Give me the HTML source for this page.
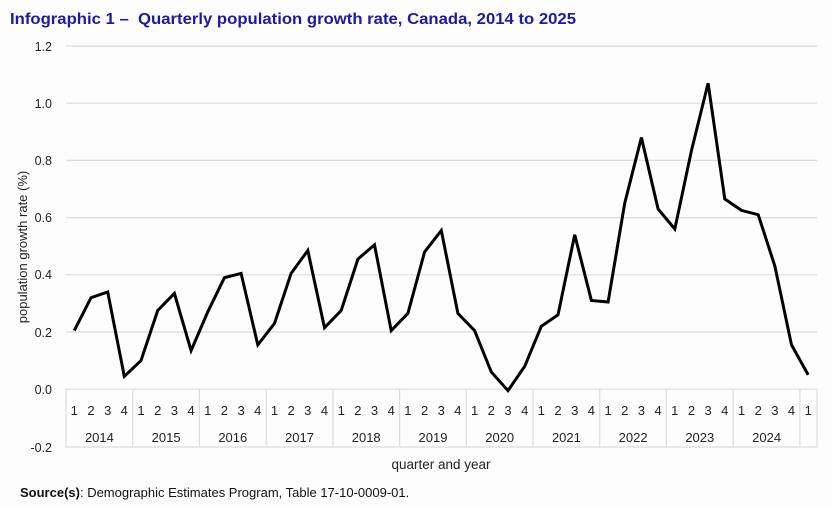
<!DOCTYPE html>
<html><head><meta charset="utf-8"><style>
html,body{margin:0;padding:0;background:#fdfdfd;}
svg{display:block;font-family:"Liberation Sans",Arial,sans-serif;}
</style></head><body>
<svg width="831" height="509" viewBox="0 0 831 509" xmlns="http://www.w3.org/2000/svg">
<rect width="831" height="509" fill="#fdfdfd"/>
<text x="10" y="24" font-size="16" font-weight="bold" fill="#1a1aa6" textLength="566" lengthAdjust="spacingAndGlyphs">Infographic 1 –&#160; Quarterly population growth rate, Canada, 2014 to 2025</text>
<g stroke="#dcdcdc" stroke-width="1.2">
<line x1="66" y1="46" x2="817" y2="46"/>
<line x1="66" y1="103.2" x2="817" y2="103.2"/>
<line x1="66" y1="160.4" x2="817" y2="160.4"/>
<line x1="66" y1="217.6" x2="817" y2="217.6"/>
<line x1="66" y1="274.8" x2="817" y2="274.8"/>
<line x1="66" y1="332" x2="817" y2="332"/>
<line x1="66" y1="389.2" x2="817" y2="389.2"/>
<line x1="66" y1="447" x2="817" y2="447"/>
<line x1="66" y1="389" x2="66" y2="447"/>
<line x1="132.7" y1="389" x2="132.7" y2="447"/>
<line x1="199.4" y1="389" x2="199.4" y2="447"/>
<line x1="266.2" y1="389" x2="266.2" y2="447"/>
<line x1="332.9" y1="389" x2="332.9" y2="447"/>
<line x1="399.6" y1="389" x2="399.6" y2="447"/>
<line x1="466.3" y1="389" x2="466.3" y2="447"/>
<line x1="533" y1="389" x2="533" y2="447"/>
<line x1="599.8" y1="389" x2="599.8" y2="447"/>
<line x1="666.5" y1="389" x2="666.5" y2="447"/>
<line x1="733.2" y1="389" x2="733.2" y2="447"/>
<line x1="799.9" y1="389" x2="799.9" y2="447"/>
<line x1="817" y1="389" x2="817" y2="447"/>
</g>
<g font-size="12.5" fill="#222" text-anchor="end">
<text x="52" y="51">1.2</text>
<text x="52" y="108">1.0</text>
<text x="52" y="165">0.8</text>
<text x="52" y="222">0.6</text>
<text x="52" y="279">0.4</text>
<text x="52" y="337">0.2</text>
<text x="52" y="394">0.0</text>
<text x="52" y="452">-0.2</text>
</g>
<text transform="translate(27,247) rotate(-90)" font-size="13" fill="#222" text-anchor="middle">population growth rate (%)</text>
<g font-size="13" fill="#222" text-anchor="middle">
<text x="74.3 91 107.7 124.3 141 157.7 174.4 191.1 207.7 224.4 241.1 257.8 274.5 291.1 307.8 324.5 341.2 357.9 374.5 391.2 407.9 424.6 441.3 457.9 474.6 491.3 508 524.7 541.3 558 574.7 591.4 608.1 624.7 641.4 658.1 674.8 691.5 708.1 724.8 741.5 758.2 774.9 791.5 808.2" y="415">123412341234123412341234123412341234123412341</text>
<text x="99.4" y="442">2014</text>
<text x="166.1" y="442">2015</text>
<text x="232.8" y="442">2016</text>
<text x="299.5" y="442">2017</text>
<text x="366.2" y="442">2018</text>
<text x="433" y="442">2019</text>
<text x="499.7" y="442">2020</text>
<text x="566.4" y="442">2021</text>
<text x="633.1" y="442">2022</text>
<text x="699.8" y="442">2023</text>
<text x="766.6" y="442">2024</text>
</g>
<text x="441" y="469" font-size="13.5" fill="#222" text-anchor="middle">quarter and year</text>
<text x="20" y="497" font-size="13" fill="#111"><tspan font-weight="bold">Source(s)</tspan>: Demographic Estimates Program, Table 17-10-0009-01.</text>
<polyline id="ln" fill="none" stroke="#000" stroke-width="3" stroke-linejoin="miter" points=""/>
<script>
var v=[0.205,0.32,0.34,0.045,0.10,0.275,0.335,0.135,0.27,0.39,0.405,0.155,0.23,0.405,0.485,0.215,0.275,0.455,0.505,0.205,0.265,0.48,0.555,0.265,0.205,0.06,-0.005,0.08,0.22,0.26,0.54,0.31,0.305,0.65,0.88,0.63,0.56,0.835,1.07,0.665,0.625,0.61,0.43,0.155,0.05];
var p=v.map(function(a,i){return (74.3+16.68*i).toFixed(1)+","+(389.2-a*286).toFixed(1);}).join(" ");
document.getElementById("ln").setAttribute("points",p);
</script>
</svg>
</body></html>
